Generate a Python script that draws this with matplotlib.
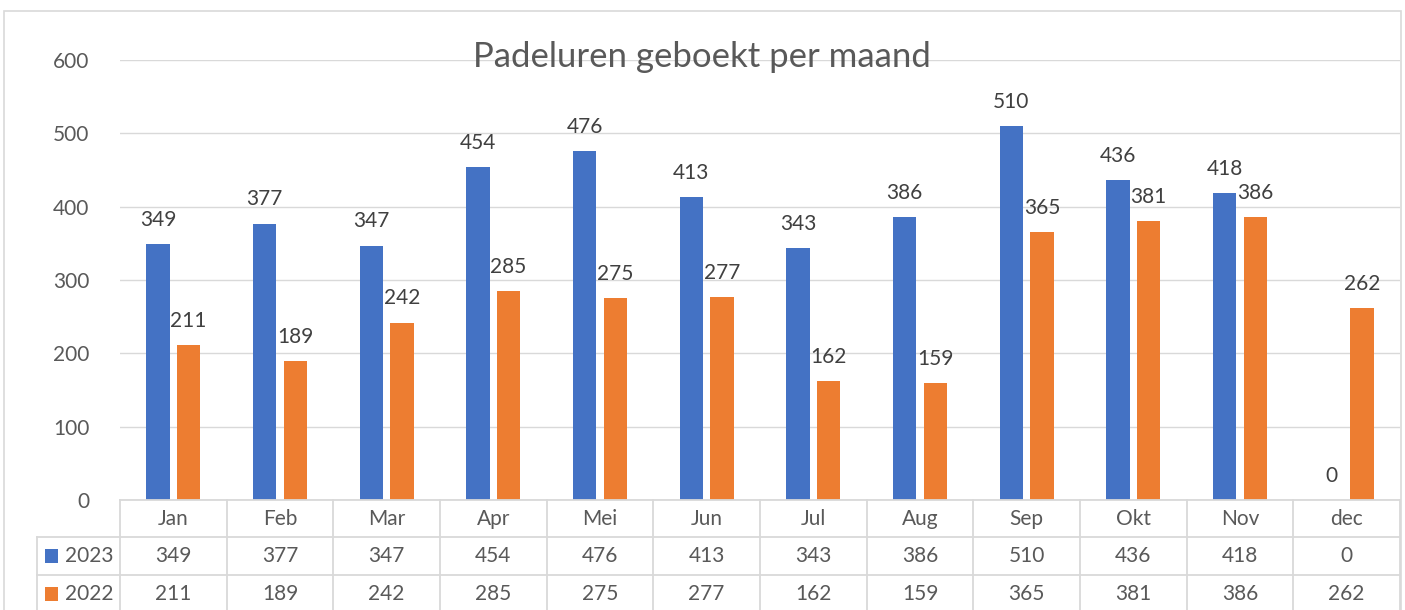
import matplotlib
matplotlib.use("Agg")
import matplotlib.pyplot as plt
import matplotlib.transforms as mtrans
from matplotlib.patches import Rectangle
from matplotlib.lines import Line2D
import numpy as np

months = ["Jan", "Feb", "Mar", "Apr", "Mei", "Jun", "Jul", "Aug", "Sep", "Okt", "Nov", "dec"]
series_names = ["2023", "2022"]
values_2023 = [349, 377, 347, 454, 476, 413, 343, 386, 510, 436, 418, 0]
values_2022 = [211, 189, 242, 285, 275, 277, 162, 159, 365, 381, 386, 262]
yticks = [0, 100, 200, 300, 400, 500, 600]
title = "Padeluren geboekt per maand"

BLUE = "#4472C4"
ORANGE = "#ED7D31"
TXT = "#595959"
LBL = "#404040"
GRID = "#D9D9D9"
FONT = ["Lato", "DejaVu Sans"]
FS = 15

W, H = 1405, 610
fig = plt.figure(figsize=(W / 100, H / 100), dpi=100)
fig.patch.set_facecolor("white")

# plot area in pixels
L, R, T, B = 120, 1400, 60, 500
ax = fig.add_axes([L / W, 1 - B / H, (R - L) / W, (B - T) / H])
ax.set_xlim(-0.5, len(months) - 0.5)
ax.set_ylim(0, 600)
for s in ax.spines.values():
    s.set_visible(False)
ax.set_xticks([])
ax.set_yticks(yticks)
ax.set_yticklabels([str(v) for v in yticks], fontsize=FS, color=TXT, family=FONT)
ax.tick_params(axis="y", length=0, pad=22)
ax.grid(axis="y", color=GRID, linewidth=1.0)
ax.set_axisbelow(True)

x = np.arange(len(months))
bw = 0.22
off = 0.143
b1 = ax.bar(x - off, values_2023, bw, color=BLUE, zorder=3)
b2 = ax.bar(x + off, values_2022, bw, color=ORANGE, zorder=3)
for bars, vals in ((b1, values_2023), (b2, values_2022)):
    for rect, v in zip(bars, vals):
        ax.annotate(str(v), (rect.get_x() + rect.get_width() / 2, v),
                    xytext=(0, 13), textcoords="offset points",
                    ha="center", va="baseline", fontsize=FS, color=LBL,
                    family=FONT, zorder=4)

# title
fig.text(702 / W, 1 - 57 / H, title, ha="center", va="center",
         fontsize=25, color=TXT, family=FONT)

# outer chart border
fig.add_artist(Rectangle((4 / W, -0.01), (1401 - 4) / W, 1 - 11 / H + 0.01,
                         transform=fig.transFigure, fill=False,
                         edgecolor=GRID, linewidth=1.2))

# data table: x in data coords (columns) or pixels (legend column), y in axes coords
btr = mtrans.blended_transform_factory(ax.transData, ax.transAxes)
pix_y = mtrans.blended_transform_factory(mtrans.IdentityTransform(), ax.transAxes)
ph = B - T


def ay(py):
    return (B - py) / ph


legend_left = 37
ax.add_line(Line2D([-0.5, 11.5], [ay(500)] * 2, transform=btr, color=GRID,
                   linewidth=1.3, clip_on=False, zorder=5))
for py in (537, 575, 612):
    ax.add_line(Line2D([legend_left, R], [ay(py)] * 2, transform=pix_y,
                       color=GRID, linewidth=1.3, clip_on=False))
for k in range(len(months) + 1):
    ax.add_line(Line2D([k - 0.5] * 2, [ay(500), ay(620)], transform=btr,
                       color=GRID, linewidth=1.3, clip_on=False))
ax.add_line(Line2D([legend_left] * 2, [ay(537), ay(620)], transform=pix_y,
                   color=GRID, linewidth=1.3, clip_on=False))

for i, m in enumerate(months):
    ax.text(i, ay(519), m, transform=btr, ha="center", va="center",
            fontsize=FS, color=TXT, family=FONT, clip_on=False)
for i, v in enumerate(values_2023):
    ax.text(i, ay(556), str(v), transform=btr, ha="center", va="center",
            fontsize=FS, color=TXT, family=FONT, clip_on=False)
for i, v in enumerate(values_2022):
    ax.text(i, ay(594), str(v), transform=btr, ha="center", va="center",
            fontsize=FS, color=TXT, family=FONT, clip_on=False)

for name, col, py in ((series_names[0], BLUE, 556), (series_names[1], ORANGE, 594)):
    ax.add_patch(Rectangle((45, ay(py + 7)), 13, 14 / ph, transform=pix_y,
                           facecolor=col, edgecolor="none", clip_on=False))
    ax.text(65, ay(py), name, transform=pix_y, ha="left", va="center",
            fontsize=FS, color=TXT, family=FONT, clip_on=False)

fig.savefig("out.png", dpi=100)
